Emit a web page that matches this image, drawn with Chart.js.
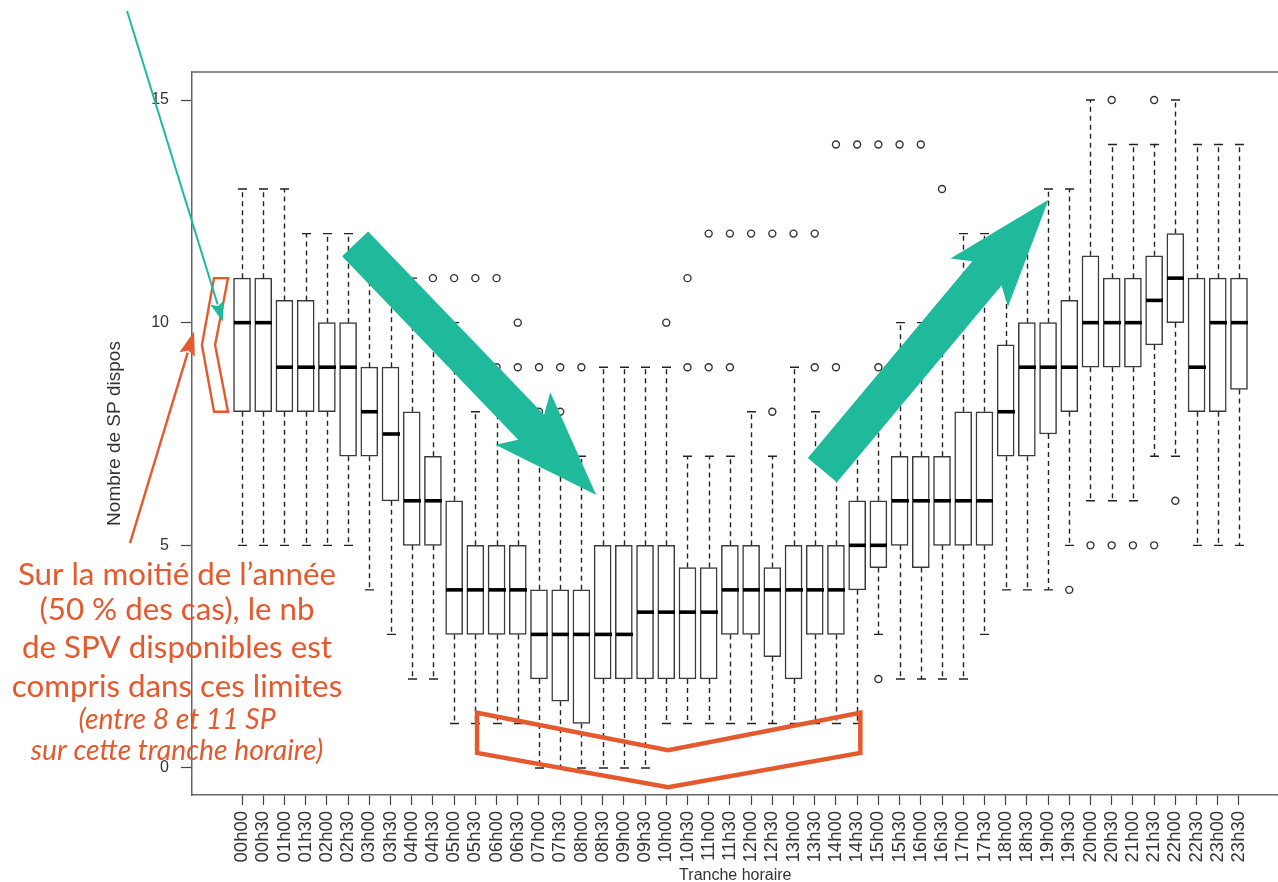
<!DOCTYPE html>
<html><head><meta charset="utf-8">
<script src="https://cdn.jsdelivr.net/npm/chart.js@4.4.1/dist/chart.umd.min.js"></script>
<style>html,body{margin:0;padding:0;background:#fff;overflow:hidden}#wrap{width:1278px;height:882px;position:relative;overflow:hidden}</style>
</head><body><div id="wrap"><canvas id="c" width="1284" height="882"></canvas></div>
<script>
const labels = ["00h00","00h30","01h00","01h30","02h00","02h30","03h00","03h30","04h00","04h30","05h00","05h30","06h00","06h30","07h00","07h30","08h00","08h30","09h00","09h30","10h00","10h30","11h00","11h30","12h00","12h30","13h00","13h30","14h00","14h30","15h00","15h30","16h00","16h30","17h00","17h30","18h00","18h30","19h00","19h30","20h00","20h30","21h00","21h30","22h00","22h30","23h00","23h30"];
const whiskerLow  = [5,5,5,5,5,5,4,3,2,2,1,1,1,1,0,0,0,0,0,0,1,1,1,1,1,1,1,1,1,1,3,2,2,2,2,3,4,4,4,5,6,6,6,7,7,5,5,5];
const q1          = [8,8,8,8,8,7,7,6,5,5,3,3,3,3,2,1.5,1,2,2,2,2,2,2,3,3,2.5,2,3,3,4,4.5,5,4.5,5,5,5,7,7,7.5,8,9,9,9,9.5,10,8,8,8.5];
const median      = [10,10,9,9,9,9,8,7.5,6,6,4,4,4,4,3,3,3,3,3,3.5,3.5,3.5,3.5,4,4,4,4,4,4,5,5,6,6,6,6,6,8,9,9,9,10,10,10,10.5,11,9,10,10];
const q3          = [11,11,10.5,10.5,10,10,9,9,8,7,6,5,5,5,4,4,4,5,5,5,5,4.5,4.5,5,5,4.5,5,5,5,6,6,7,7,7,8,8,9.5,10,10,10.5,11.5,11,11,11.5,12,11,11,11];
const whiskerHigh = [13,13,13,12,12,12,11,11,11,10,10,8,8,8,7,7,7,9,9,9,9,7,7,7,8,7,9,8,7,8,8,10,10,10,12,12,12,12,13,13,15,14,14,14,15,14,14,14];
const outliers = [[],[],[],[],[],[],[],[],[],[11],[11],[11],[9,11],[9,10],[8,9],[8,9],[9],[],[],[],[10],[9,11],[9,12],[9,12],[12],[8,12],[12],[9,12],[9,14],[14],[2,9,14],[14],[14],[13],[],[],[],[],[],[4],[5],[5,15],[5],[5,15],[6],[],[],[]];
const yTicks = [0,5,10,15];

// annotation anchors, in data units (x = slot index, y = SP count)
const bracketBottom = [[11.08,1.24],[20.09,0.40],[29.15,1.24],[29.15,0.34],[20.09,-0.43],[11.08,0.34]];
const chevron = [[-1.32,11],[-0.66,11],[-1.27,9.5],[-0.66,8],[-1.32,8],[-1.89,9.5]];
const tealPointer = [[-5.42,17.0],[-0.90,10.02]];
const orangePointer = [[-5.28,5.05],[-2.26,9.80]];
const arrowDown = [[5.33,11.77],[16.70,6.13]];
const arrowUp = [[27.36,6.69],[38.02,12.76]];
const noteLines = ["Sur la moitié de l’année","(50 % des cas), le nb","de SPV disponibles est","compris dans ces limites"];
const noteItalic = ["(entre 8 et 11 SP","sur cette tranche horaire)"];

const TEAL = '#1FBA9C', ORANGE = '#E4592D';

const boxData = labels.map((_, i) => ({x: i, y: [q1[i], q3[i]]}));
const outData = [];
outliers.forEach((arr, i) => arr.forEach(v => outData.push({x: i, y: v})));

function poly(ctx, pts) {
  ctx.beginPath();
  pts.forEach((p, k) => k ? ctx.lineTo(p[0], p[1]) : ctx.moveTo(p[0], p[1]));
  ctx.closePath();
}
function bigArrow(ctx, a, b, hw, headLen, headHw, sweep) {
  const dx = b[0]-a[0], dy = b[1]-a[1], L = Math.hypot(dx, dy);
  const ux = dx/L, uy = dy/L, nx = -uy, ny = ux;
  const bx = b[0]-ux*headLen, by = b[1]-uy*headLen;
  const jx = bx+ux*sweep, jy = by+uy*sweep;
  poly(ctx, [[a[0]+nx*hw, a[1]+ny*hw],[jx+nx*hw, jy+ny*hw],[bx+nx*headHw, by+ny*headHw],b,
             [bx-nx*headHw, by-ny*headHw],[jx-nx*hw, jy-ny*hw],[a[0]-nx*hw, a[1]-ny*hw]]);
  ctx.fill();
}
function lineArrow(ctx, a, b, lw, headLen, headHw) {
  const dx = b[0]-a[0], dy = b[1]-a[1], L = Math.hypot(dx, dy);
  const ux = dx/L, uy = dy/L, nx = -uy, ny = ux;
  const bx = b[0]-ux*headLen, by = b[1]-uy*headLen;
  ctx.lineWidth = lw;
  ctx.beginPath(); ctx.moveTo(a[0], a[1]); ctx.lineTo(bx+ux*2, by+uy*2); ctx.stroke();
  poly(ctx, [b,[bx+nx*headHw, by+ny*headHw],[bx+ux*headLen*0.18, by+uy*headLen*0.18],[bx-nx*headHw, by-ny*headHw]]);
  ctx.fill();
}

const boxPlugin = {
  id: 'boxParts',
  afterDatasetsDraw(chart) {
    const ctx = chart.ctx, xs = chart.scales.x, ys = chart.scales.y;
    ctx.save();
    ctx.strokeStyle = '#222';
    labels.forEach((_, i) => {
      const x = Math.round(xs.getPixelForValue(i)) + 0.5;
      ctx.lineWidth = 1.4;
      ctx.setLineDash([5, 4]);
      ctx.beginPath();
      ctx.moveTo(x, ys.getPixelForValue(q3[i])); ctx.lineTo(x, ys.getPixelForValue(whiskerHigh[i]));
      ctx.moveTo(x, ys.getPixelForValue(q1[i])); ctx.lineTo(x, ys.getPixelForValue(whiskerLow[i]));
      ctx.stroke();
      ctx.setLineDash([]);
      ctx.beginPath();
      const yh = ys.getPixelForValue(whiskerHigh[i]), yl = ys.getPixelForValue(whiskerLow[i]);
      ctx.moveTo(x-4.5, yh); ctx.lineTo(x+4.5, yh);
      ctx.moveTo(x-4.5, yl); ctx.lineTo(x+4.5, yl);
      ctx.stroke();
      ctx.lineWidth = 3.6;
      ctx.strokeStyle = '#000';
      ctx.beginPath();
      const ym = ys.getPixelForValue(median[i]);
      ctx.moveTo(x-8.5, ym); ctx.lineTo(x+8.5, ym);
      ctx.stroke();
      ctx.strokeStyle = '#222';
    });
    ctx.restore();
  },
  afterDraw(chart) {
    const ctx = chart.ctx, xs = chart.scales.x, ys = chart.scales.y, ca = chart.chartArea;
    const P = p => [xs.getPixelForValue(p[0]), ys.getPixelForValue(p[1])];
    ctx.save();
    // top frame line, and bottom frame carried to the edge
    ctx.strokeStyle = '#666'; ctx.lineWidth = 1.5;
    ctx.beginPath(); ctx.moveTo(ca.left, ca.top); ctx.lineTo(chart.width, ca.top);
    ctx.moveTo(ca.right - 1, ca.bottom); ctx.lineTo(chart.width, ca.bottom); ctx.stroke();
    // orange bracket and chevron
    ctx.strokeStyle = ORANGE; ctx.lineJoin = 'miter';
    ctx.lineWidth = 4.5; poly(ctx, bracketBottom.map(P)); ctx.stroke();
    ctx.lineWidth = 2.4; poly(ctx, chevron.map(P)); ctx.stroke();
    // pointers
    ctx.fillStyle = ORANGE;
    lineArrow(ctx, P(orangePointer[0]), P(orangePointer[1]), 2.4, 24, 8);
    ctx.strokeStyle = TEAL; ctx.fillStyle = TEAL;
    lineArrow(ctx, P(tealPointer[0]), P(tealPointer[1]), 2, 20, 7);
    // big arrows
    bigArrow(ctx, P(arrowDown[0]), P(arrowDown[1]), 18, 106, 38, 12);
    bigArrow(ctx, P(arrowUp[0]), P(arrowUp[1]), 19, 108, 37.5, 12);
    // note text
    ctx.fillStyle = ORANGE; ctx.textAlign = 'center'; ctx.textBaseline = 'middle';
    const fit = (txt, target, style) => {
      ctx.font = style + ' 26px Lato, "Open Sans", sans-serif';
      const w = ctx.measureText(txt).width;
      return 26 * target / w;
    };
    const fsR = fit(noteLines[3], 330, 'normal');
    ctx.font = 'normal ' + fsR.toFixed(1) + 'px Lato, "Open Sans", sans-serif';
    const ysR = [575, 610, 648, 687];
    noteLines.forEach((t, k) => ctx.fillText(t, 177, ysR[k]));
    const fsI = fit(noteItalic[1], 292, 'italic');
    ctx.font = 'italic ' + fsI.toFixed(1) + 'px Lato, "Open Sans", sans-serif';
    const ysI = [720, 751];
    noteItalic.forEach((t, k) => ctx.fillText(t, 177, ysI[k]));
    ctx.restore();
  }
};

new Chart(document.getElementById('c'), {
  type: 'bar',
  data: {
    datasets: [
      { type: 'bar', data: boxData, backgroundColor: '#ffffff', borderColor: '#3a3a3a', borderWidth: 1.5,
        borderSkipped: false, barThickness: 17, order: 2 },
      { type: 'scatter', data: outData, pointStyle: 'circle', pointRadius: 3.5, pointBorderWidth: 1.4,
        pointBackgroundColor: 'rgba(0,0,0,0)', pointBorderColor: '#333', showLine: false, order: 1 }
    ]
  },
  options: {
    responsive: false, animation: false, devicePixelRatio: 1,
    layout: { padding: { top: 72, right: 0, bottom: 0, left: 0 } },
    plugins: { legend: { display: false }, tooltip: { enabled: false } },
    scales: {
      x: {
        type: 'linear', min: -2.358, max: 48.868, offset: false,
        afterBuildTicks: s => { s.ticks = labels.map((_, i) => ({ value: i })); },
        afterFit: s => { s.height = 87; s.paddingRight = 0; s.paddingLeft = 0; },
        ticks: { autoSkip: false, minRotation: 90, maxRotation: 90, padding: 6, color: '#333',
                 font: { family: '"Liberation Sans", Arial, sans-serif', size: 18.5 },
                 callback: v => labels[v] },
        grid: { offset: false, drawOnChartArea: false, drawTicks: true, tickLength: 10, color: '#444', tickWidth: 1.2 },
        border: { display: true, color: '#666', width: 1.5 },
        title: { display: true, text: 'Tranche horaire', color: '#333',
                 font: { family: '"Liberation Sans", Arial, sans-serif', size: 16 },
                 padding: { top: 0, bottom: -3 } }
      },
      y: {
        type: 'linear', min: -0.6063, max: 15.6288,
        afterBuildTicks: s => { s.ticks = yTicks.map(v => ({ value: v })); },
        afterFit: s => { s.width = 192; s.paddingTop = 0; s.paddingBottom = 0; },
        ticks: { padding: 12, color: '#333', font: { family: '"Liberation Sans", Arial, sans-serif', size: 16 } },
        grid: { offset: false, drawOnChartArea: false, drawTicks: true, tickLength: 11, color: '#444', tickWidth: 1.2 },
        border: { display: true, color: '#666', width: 1.5 },
        title: { display: true, text: 'Nombre de SP dispos', color: '#333',
                 font: { family: '"Liberation Sans", Arial, sans-serif', size: 19 },
                 padding: { top: 103, bottom: 0 } }
      }
    }
  },
  plugins: [boxPlugin]
});
</script></body></html>
